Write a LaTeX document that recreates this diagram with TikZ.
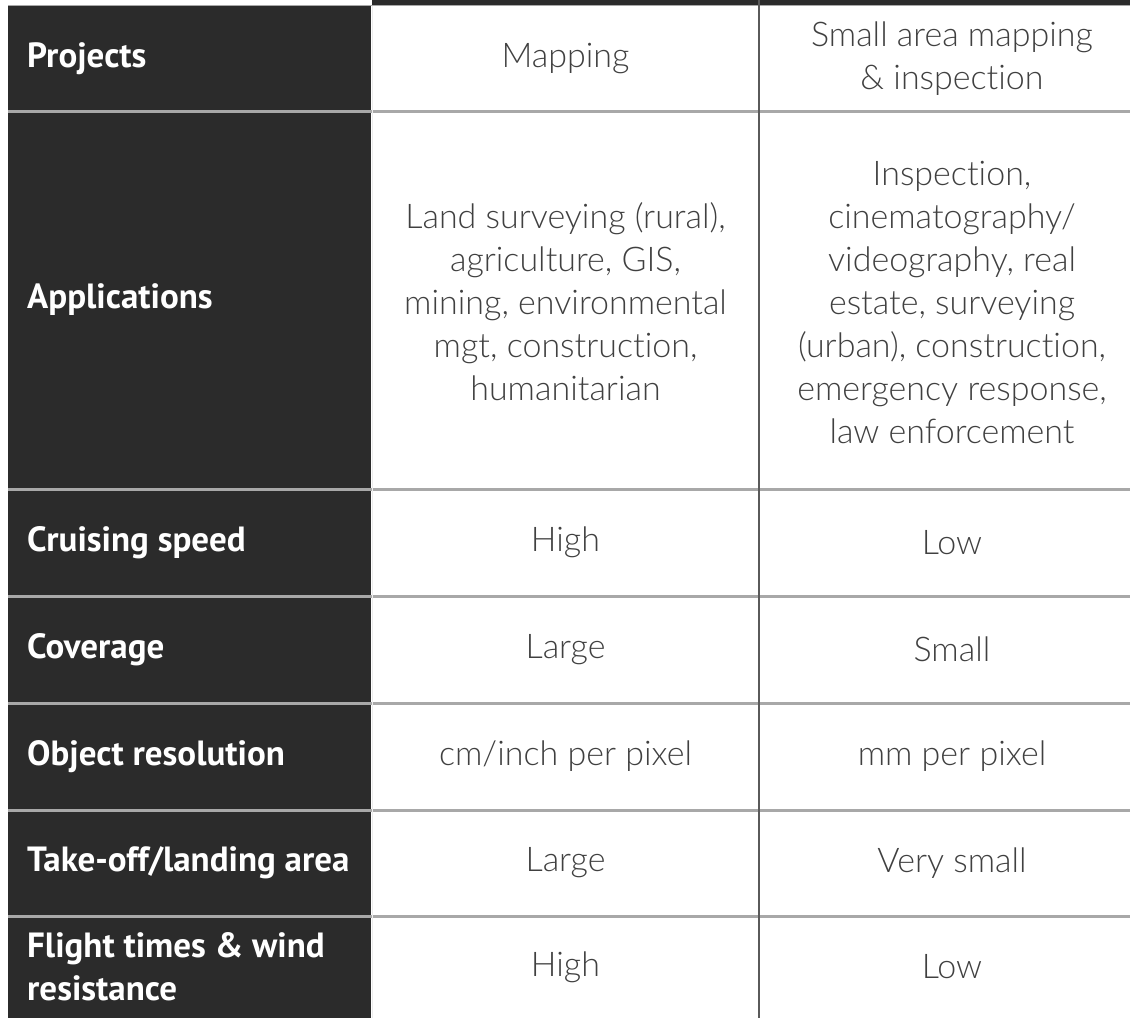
\documentclass[tikz,border=0pt]{standalone}
\usepackage{fontspec}
\newfontfamily\headfont{PT Sans}
\newfontfamily\bodyfont{Lato}[UprightFont=* Light, Ligatures=NoCommon]
\definecolor{cellbg}{HTML}{2B2B2B}
\definecolor{rulegray}{HTML}{A8A8A8}
\definecolor{textgray}{HTML}{404040}
\definecolor{colline}{HTML}{5A5A5A}

\begin{document}
\begin{tikzpicture}[x=1pt,y=-1pt,
  head/.style={anchor=west, text=white, inner sep=0pt, align=left,
    font=\headfont\bfseries\fontsize{35}{43}\selectfont},
  body/.style={text=textgray, inner sep=0pt, align=center,
    font=\bodyfont\fontsize{34}{43}\selectfont},
  sep/.style={draw=rulegray, line width=3pt},
]
\useasboundingbox (0,0) rectangle (1130,1018);

% dark header band and dark label column
\fill[cellbg] (372,0) rectangle (1130,5);
\fill[cellbg] (8,6) rectangle (371,1018);

% horizontal rules between rows
\draw[rulegray, line width=1.5pt] (8,5.5) -- (1130,5.5);
\foreach \y in {111,489,596,703,810,916}
  \draw[sep] (8,\y) -- (1130,\y);

% column rules
\draw[white!85!gray, line width=1pt] (372,6) -- (372,1018);
\draw[colline, line width=1.2pt] (759,0) -- (759,1018);

% row labels
\node[head] (h1) at (27,58.5)  {Projects};
\node[head] (h2) at (27,300)   {Applications};
\node[head] (h3) at (27,542.5) {Cruising speed};
\node[head] (h4) at (27,649.5) {Coverage};
\node[head] (h5) at (27,756.5) {Object resolution};
\node[head] (h6) at (27,863)   {Take-off/landing area};
\node[head] (h7) at (27,967)   {Flight times \& wind\\resistance};

% first value column
\node[body] (a1) at (565.5,58.5)  {Mapping};
\node[body] (a2) at (565.5,302)   {Land surveying (rural),\\agriculture, GIS,\\mining, environmental\\mgt, construction,\\humanitarian};
\node[body] (a3) at (565.5,542.5) {High};
\node[body] (a4) at (565.5,649.5) {Large};
\node[body] (a5) at (565.5,756.5) {cm/inch per pixel};
\node[body] (a6) at (565.5,863)   {Large};
\node[body] (a7) at (565.5,967)   {High};

% second value column
\node[body] (b1) at (952,58.5)  {Small area mapping\\\& inspection};
\node[body] (b2) at (952,302)   {Inspection,\\cinematography/\\videography, real\\estate, surveying\\(urban), construction,\\emergency response,\\law enforcement};
\node[body] (b3) at (952,542.5) {Low};
\node[body] (b4) at (952,649.5) {Small};
\node[body] (b5) at (952,756.5) {mm per pixel};
\node[body] (b6) at (952,863)   {Very small};
\node[body] (b7) at (952,967)   {Low};
\end{tikzpicture}
\end{document}
